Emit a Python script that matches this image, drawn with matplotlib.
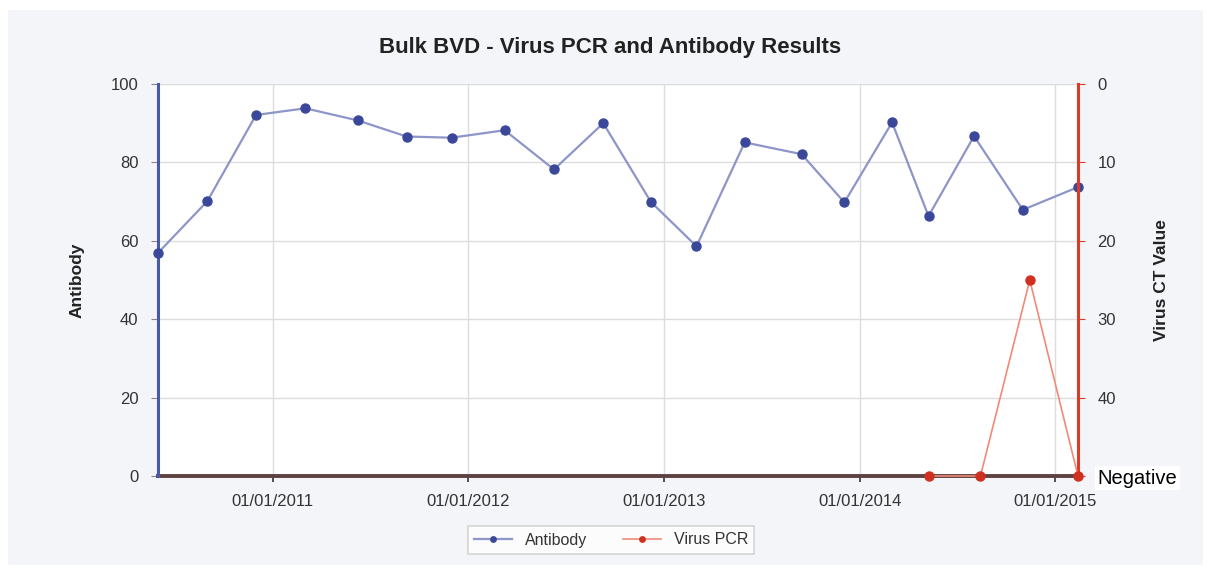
import numpy as np
import matplotlib
matplotlib.use('Agg')
import matplotlib.pyplot as plt
import matplotlib.dates as mdates
import matplotlib.patches as patches
from matplotlib import font_manager

# Data
ab_dates = ['2010-06-01', '2010-09-01', '2010-12-01', '2011-03-03', '2011-06-09',
            '2011-09-08', '2011-12-01', '2012-03-09', '2012-06-09', '2012-09-09',
            '2012-12-07', '2013-03-02', '2013-05-31', '2013-09-14', '2013-12-03',
            '2014-03-02', '2014-05-09', '2014-08-02', '2014-11-01', '2015-02-12']
ab_values = [56.9, 70.1, 92.1, 93.8, 90.7, 86.6, 86.3, 88.2, 78.2, 90.0,
             69.9, 58.6, 85.1, 82.1, 69.8, 90.2, 66.3, 86.7, 67.9, 73.7]

pcr_dates = ['2014-05-10', '2014-08-14', '2014-11-14', '2015-02-12']
pcr_ct = [50, 50, 25, 50]   # 50 = "Negative"

x_ticks = ['2011-01-01', '2012-01-01', '2013-01-01', '2014-01-01', '2015-01-01']
ab_ticks = [0, 20, 40, 60, 80, 100]
ct_ticks = [0, 10, 20, 30, 40, 50]
ct_labels = ['0', '10', '20', '30', '40', 'Negative']

# Fonts
names = {f.name for f in font_manager.fontManager.ttflist}
narrow = 'Liberation Sans Narrow' if 'Liberation Sans Narrow' in names else 'Liberation Sans'
plt.rcParams['font.family'] = [narrow, 'DejaVu Sans']

# Colors
ab_line = '#8e95c8'
ab_mark = '#3b4899'
pcr_line = '#ef8a7a'
pcr_mark = '#d0301f'
text_color = '#333333'
grid_color = '#dcdcdc'

ab_x = mdates.datestr2num(ab_dates)
pcr_x = mdates.datestr2num(pcr_dates)

fig = plt.figure(figsize=(12.11, 5.72), dpi=100, facecolor='white')
# light chart panel behind everything
fig.patches.append(patches.Rectangle((8 / 1211, 1 - 565 / 572), 1195 / 1211, 555 / 572,
                                     transform=fig.transFigure, facecolor='#f3f5f8',
                                     edgecolor='none', zorder=-10))

ax = fig.add_axes([158 / 1211, 1 - 476 / 572, 920 / 1211, 392 / 572])
ax.set_facecolor('white')
ax2 = ax.twinx()

ax.plot(ab_x, ab_values, color=ab_line, linewidth=1.6, zorder=3, clip_on=False,
        marker='o', markersize=6.5, markerfacecolor=ab_mark, markeredgecolor=ab_mark,
        label='Antibody')
ax2.plot(pcr_x, pcr_ct, color=pcr_line, linewidth=1.2, zorder=3, clip_on=False,
         marker='o', markersize=6.5, markerfacecolor=pcr_mark, markeredgecolor=pcr_mark,
         label='Virus PCR')

ax.set_xlim(ab_x[0], ab_x[-1])
ax.set_ylim(0, 100)
ax2.set_ylim(50, 0)

ax.set_xticks(mdates.datestr2num(x_ticks))
ax.xaxis.set_major_formatter(mdates.DateFormatter('%d/%m/%Y'))
ax.set_yticks(ab_ticks)
ax2.set_yticks(ct_ticks)
ax2.set_yticklabels(ct_labels)

ax.grid(True, color=grid_color, linewidth=1.0)
ax.set_axisbelow(True)

ax.spines['top'].set_visible(False)
ax2.spines['top'].set_visible(False)
ax.spines['left'].set_color('#4a58aa')
ax.spines['left'].set_linewidth(2.2)
ax2.spines['right'].set_color('#dd3a28')
ax2.spines['right'].set_linewidth(2.2)
ax2.spines['left'].set_visible(False)
ax.spines['right'].set_visible(False)
ax.spines['bottom'].set_color('#5e4242')
ax.spines['bottom'].set_linewidth(2.8)
ax2.spines['bottom'].set_visible(False)
ax.spines['bottom'].set_zorder(2)

ax.tick_params(axis='x', colors=text_color, labelsize=12, length=4, width=1.2, pad=9)
ax.tick_params(axis='y', colors='#888888', labelcolor=text_color, labelsize=12, length=5, pad=9)
ax2.tick_params(axis='y', colors='#dd3a28', labelcolor=text_color, labelsize=12, length=5, pad=9)

neg = ax2.get_yticklabels()[-1]
neg.set_fontfamily('Liberation Sans')
neg.set_fontsize(14.5)
neg.set_color('black')
neg.set_bbox(dict(facecolor='white', edgecolor='none', pad=2))

ax.set_ylabel('Antibody', fontsize=12.5, fontweight='bold', color='#222222')
ax.yaxis.set_label_coords(-0.080, 0.5)
ax2.set_ylabel('Virus CT Value', fontsize=12.5, fontweight='bold', color='#222222')
ax2.yaxis.set_label_coords(1.083, 0.5)

fig.text(0.504, 1 - 47 / 572, 'Bulk BVD - Virus PCR and Antibody Results', ha='center',
         va='center', fontsize=16, fontweight='bold', color='#222222')

h1, l1 = ax.get_legend_handles_labels()
h2, l2 = ax2.get_legend_handles_labels()
leg = fig.legend(h1 + h2, l1 + l2, loc='center', bbox_to_anchor=(611 / 1211, 1 - 540 / 572),
                 ncol=2, fontsize=11.5, frameon=True, fancybox=False, edgecolor='#cccccc',
                 handlelength=2.4, columnspacing=2.2, markerscale=0.6)
leg.get_frame().set_linewidth(1.2)
for t in leg.get_texts():
    t.set_color(text_color)

plt.savefig('out.png', dpi=100, facecolor=fig.get_facecolor())
